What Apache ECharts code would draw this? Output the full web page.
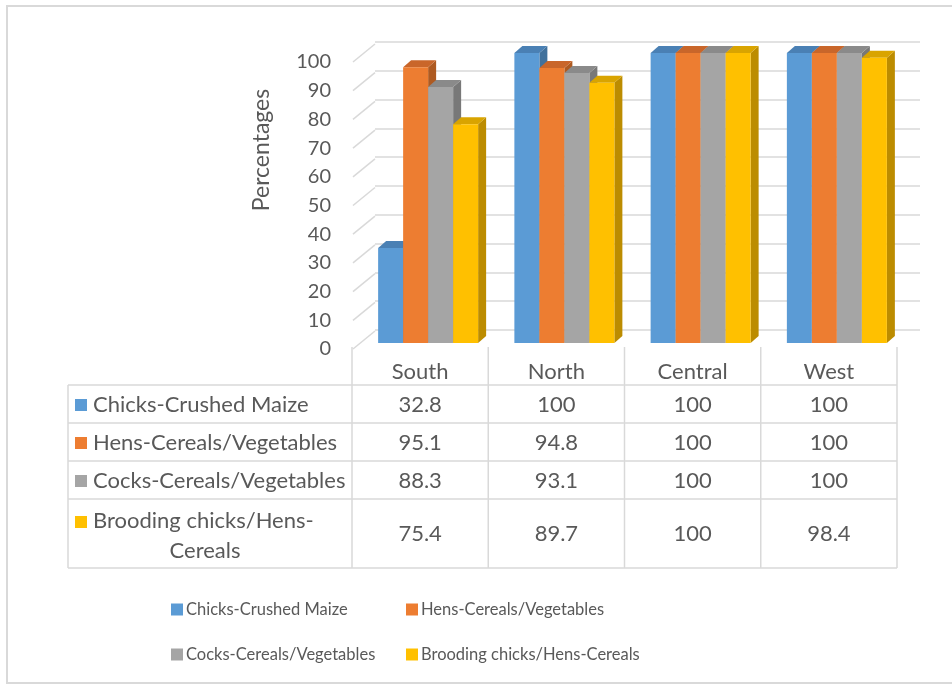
<!DOCTYPE html>
<html>
<head>
<meta charset="utf-8">
<script src="https://cdn.jsdelivr.net/npm/echarts@6/dist/echarts.min.js"></script>
<style>
  html, body { margin: 0; padding: 0; background: #fff; }
  #chart { width: 952px; height: 686px; }
</style>
</head>
<body>
<div id="chart"></div>
<script>
// data
const categories = ['South', 'North', 'Central', 'West'];
const seriesNames = [
  'Chicks-Crushed Maize',
  'Hens-Cereals/Vegetables',
  'Cocks-Cereals/Vegetables',
  'Brooding chicks/Hens-Cereals'
];
const chicksMaize = [32.8, 100, 100, 100];
const hensCereals = [95.1, 94.8, 100, 100];
const cocksCereals = [88.3, 93.1, 100, 100];
const broodingHens = [75.4, 89.7, 100, 98.4];
const yTicks = [0, 10, 20, 30, 40, 50, 60, 70, 80, 90, 100];

const allValues = [chicksMaize, hensCereals, cocksCereals, broodingHens];
// front / top / side shades
const palette = [
  ['#5b9bd5', '#4a80b4', '#41719c'],
  ['#ed7d31', '#c9662a', '#ae5a21'],
  ['#a5a5a5', '#8a8a8a', '#787878'],
  ['#ffc000', '#d9a400', '#bc8c00']
];
const textColor = '#595959';
const lineColor = '#d9d9d9';
const font = 'Lato, "Open Sans", sans-serif';
const tableFont = '22px ' + font;

const BAR_W = 25, DX = 8, DY = 7, SHIFT = 8;

function barRenderer(k) {
  return function (params, api) {
    const i = api.value(0);
    const base = api.coord([i, 0]);
    const top = api.coord([i, api.value(1)]);
    const x0 = base[0] - 2 * BAR_W + SHIFT + k * BAR_W;
    const x1 = x0 + BAR_W;
    const y0 = base[1], y1 = top[1];
    const c = palette[k];
    return {
      type: 'group',
      children: [
        { type: 'polygon', shape: { points: [[x1, y1], [x1 + DX, y1 - DY], [x1 + DX, y0 - DY], [x1, y0]] },
          style: { fill: c[2] } },
        { type: 'polygon', shape: { points: [[x0, y1], [x0 + DX, y1 - DY], [x1 + DX, y1 - DY], [x1, y1]] },
          style: { fill: c[1] } },
        { type: 'rect', shape: { x: x0, y: y1, width: BAR_W, height: y0 - y1 }, style: { fill: c[0] } }
      ]
    };
  };
}

// rows of the data table
const rowY = [405, 443, 481, 534];
const TABLE_TOP = 347, TABLE_BOTTOM = 568;

function tableRenderer(params, api) {
  const i = api.value(0);
  const p = api.coord([i, 0]);
  const half = api.size([1, 0])[0] / 2;
  const children = [];
  children.push({ type: 'line', shape: { x1: p[0] - half, y1: TABLE_TOP, x2: p[0] - half, y2: TABLE_BOTTOM },
    style: { stroke: lineColor, lineWidth: 1.5 } });
  if (i === categories.length - 1) {
    children.push({ type: 'line', shape: { x1: p[0] + half, y1: TABLE_TOP, x2: p[0] + half, y2: TABLE_BOTTOM },
      style: { stroke: lineColor, lineWidth: 1.5 } });
  }
  allValues.forEach((arr, r) => {
    children.push({ type: 'text', x: p[0], y: rowY[r],
      style: { text: String(arr[i]), fill: textColor, font: tableFont, align: 'center', verticalAlign: 'middle' } });
  });
  return { type: 'group', children: children };
}

// slanted wall segments at each tick
function wallRenderer(params, api) {
  const p = api.coord([0, api.value(0)]);
  return { type: 'line', shape: { x1: p[0] + 1, y1: p[1], x2: p[0] + 23, y2: p[1] - 18 },
    style: { stroke: lineColor, lineWidth: 1.5 } };
}

const chart = echarts.init(document.getElementById('chart'));

// table frame and row labels
const graphics = [
  { type: 'rect', shape: { x: 7, y: 6, width: 950, height: 677 }, style: { fill: 'none', stroke: lineColor, lineWidth: 2 }, silent: true },
  { type: 'text', x: 262, y: 150, rotation: Math.PI / 2,
    style: { text: 'Percentages', fill: textColor, font: '23px ' + font, align: 'center', verticalAlign: 'middle' } },
  { type: 'line', shape: { x1: 68, y1: 385, x2: 68, y2: TABLE_BOTTOM }, style: { stroke: lineColor, lineWidth: 1.5 } }
];
[385, 423, 461, 499, 568].forEach(y => {
  graphics.push({ type: 'line', shape: { x1: 68, y1: y, x2: 897, y2: y }, style: { stroke: lineColor, lineWidth: 1.5 } });
});
seriesNames.forEach((name, r) => {
  const wrapped = r === 3;
  graphics.push({ type: 'rect', shape: { x: 75, y: (wrapped ? 522 : rowY[r]) - 6, width: 12, height: 12 }, style: { fill: palette[r][0] } });
  if (wrapped) {
    graphics.push({ type: 'text', x: 93, y: 521, style: { text: 'Brooding chicks/Hens-', fill: textColor, font: tableFont, verticalAlign: 'middle' } });
    graphics.push({ type: 'text', x: 205, y: 551, style: { text: 'Cereals', fill: textColor, font: tableFont, align: 'center', verticalAlign: 'middle' } });
  } else {
    graphics.push({ type: 'text', x: 93, y: rowY[r], style: { text: name, fill: textColor, font: tableFont, verticalAlign: 'middle' } });
  }
});

const legendPos = [[166, 596], [401, 596], [166, 641], [401, 641]];

const option = {
  animation: false,
  textStyle: { fontFamily: font },
  grid: [
    { left: 352, right: 55, top: 53, bottom: 343 },   // bars (front)
    { left: 352, right: 55, top: 62, bottom: 337 },   // tick labels
    { left: 375, right: 32, top: 42, bottom: 356 }    // back wall
  ],
  xAxis: [
    { type: 'category', gridIndex: 0, data: categories,
      axisLine: { show: false }, axisTick: { show: false }, splitLine: { show: false },
      axisLabel: { color: textColor, fontSize: 22, margin: 18, fontFamily: font } },
    { type: 'value', gridIndex: 1, min: 0, max: 1, show: false },
    { type: 'value', gridIndex: 2, min: 0, max: 1, show: false }
  ],
  yAxis: [
    { type: 'value', gridIndex: 0, min: 0, max: 100, show: false },
    { type: 'value', gridIndex: 1, min: 0, max: 100, interval: 10,
      axisLine: { show: false }, axisTick: { show: false }, splitLine: { show: false },
      axisLabel: { color: textColor, fontSize: 20, margin: 21, fontFamily: font } },
    { type: 'value', gridIndex: 2, min: 0, max: 100, interval: 10,
      axisLine: { show: false }, axisTick: { show: false }, axisLabel: { show: false },
      splitLine: { lineStyle: { color: lineColor, width: 1.5 } } }
  ],
  legend: seriesNames.map((name, k) => ({
    data: [name], left: legendPos[k][0], top: legendPos[k][1],
    icon: 'rect', itemWidth: 12, itemHeight: 12, itemGap: 0,
    textStyle: { color: textColor, fontSize: 16.5, fontFamily: font, padding: [0, 0, 0, -2] }
  })),
  graphic: graphics,
  series: [
    { type: 'custom', name: 'wall', xAxisIndex: 1, yAxisIndex: 1, clip: false, silent: true,
      data: yTicks.map(v => [v]), encode: { y: 0 }, renderItem: wallRenderer, z: 1 },
    ...allValues.map((arr, k) => ({
      type: 'custom', name: seriesNames[k], xAxisIndex: 0, yAxisIndex: 0, clip: false,
      itemStyle: { color: palette[k][0] },
      data: arr.map((v, i) => [i, v]), encode: { x: 0, y: 1 },
      renderItem: barRenderer(k), z: 3
    })),
    { type: 'custom', name: 'table', xAxisIndex: 0, yAxisIndex: 0, clip: false, silent: true,
      data: categories.map((c, i) => [i]), encode: { x: 0 }, renderItem: tableRenderer, z: 2 }
  ]
};
chart.setOption(option);
</script>
</body>
</html>
